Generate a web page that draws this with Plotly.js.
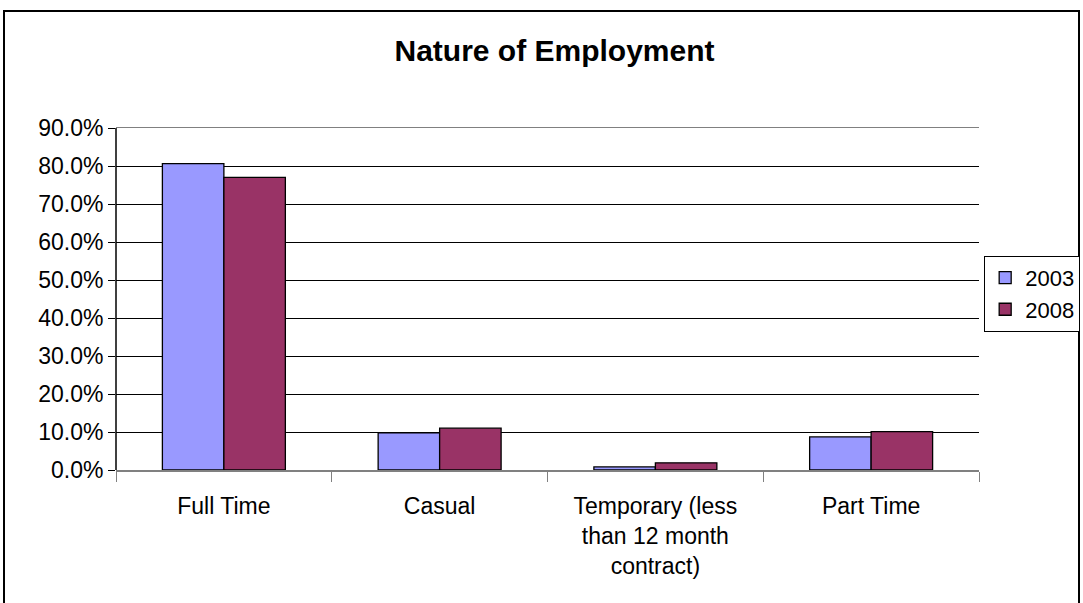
<!DOCTYPE html>
<html>
<head>
<meta charset="utf-8">
<script src="https://cdn.plot.ly/plotly-3.0.1.min.js"></script>
<style>
html, body { margin:0; padding:0; background:#fff; }
#frame { position:absolute; left:3px; top:10px; width:1077px; height:620px; border:2px solid #000; box-sizing:border-box; }
#chart { position:absolute; left:0; top:0; width:1083px; height:603px; }
</style>
</head>
<body>
<div id="frame"></div>
<div id="chart"></div>
<script>
const categories = ["Full Time", "Casual", "Temporary (less<br>than 12 month<br>contract)", "Part Time"];
const series2003 = [80.6, 9.8, 0.8, 8.7];
const series2008 = [77.0, 11.0, 1.9, 10.1];
const seriesNames = ["2003", "2008"];
const yTicks = [0, 10, 20, 30, 40, 50, 60, 70, 80, 90];

const FONT = "Liberation Sans, Arial, sans-serif";

const traces = [
  { type: "bar", name: seriesNames[0], x: categories, y: series2003,
    marker: { color: "#9999FF", line: { color: "#000", width: 1.3 } } },
  { type: "bar", name: seriesNames[1], x: categories, y: series2008,
    marker: { color: "#993366", line: { color: "#000", width: 1.3 } } }
];

const layout = {
  width: 1083, height: 603,
  paper_bgcolor: "rgba(0,0,0,0)", plot_bgcolor: "#fff",
  margin: { l: 116, r: 104, t: 128, b: 133, autoexpand: false },
  font: { family: FONT, size: 23, color: "#000" },
  title: { text: "<b>Nature of Employment</b>", font: { family: FONT, size: 30, color: "#000" },
           x: 0.512, xanchor: "center", y: 0.917, yanchor: "middle" },
  barmode: "group", bargap: 0.43, bargroupgap: 0,
  showlegend: true,
  legend: { x: 1.006, xanchor: "left", y: 0.515, yanchor: "middle",
            bordercolor: "#000", borderwidth: 1, bgcolor: "#fff",
            font: { family: FONT, size: 22, color: "#000" },
            itemwidth: 30, tracegroupgap: 0 },
  xaxis: {
    type: "category", tickson: "boundaries", ticks: "outside", ticklen: 10, tickcolor: "#808080",
    showline: true, linecolor: "#808080", linewidth: 1.5, mirror: true,
    showgrid: false, tickfont: { family: FONT, size: 23, color: "#000" },
    ticklabelstandoff: 15, automargin: false
  },
  yaxis: {
    range: [0, 90], tickvals: yTicks, ticktext: yTicks.map(v => v.toFixed(1) + "%"),
    ticks: "outside", ticklen: 7, tickcolor: "#000",
    showline: false, showgrid: true, gridcolor: "#000", gridwidth: 1,
    zeroline: false, tickfont: { family: FONT, size: 23, color: "#000" },
    ticklabelstandoff: 0, automargin: false
  },
  shapes: [
    { type: "line", xref: "paper", yref: "paper", x0: 0, x1: 0, y0: 0, y1: 1,
      line: { color: "#000", width: 1.5 } }
  ]
};

Plotly.newPlot("chart", traces, layout, { displayModeBar: false, staticPlot: true });
</script>
</body>
</html>
